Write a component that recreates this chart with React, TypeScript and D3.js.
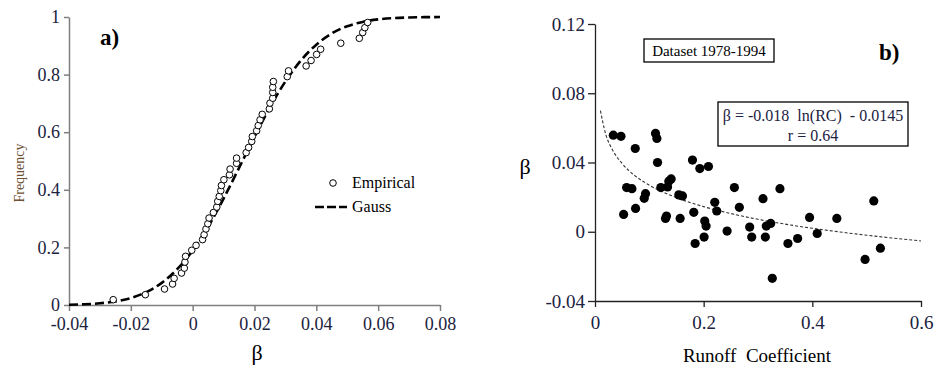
// App.tsx
import React, { useEffect, useRef } from 'react';
import * as d3 from 'd3';

// panel a) - empirical cumulative frequency of beta
const empiricalBeta = [
  -0.0257, -0.0153, -0.0091, -0.0065, -0.006, -0.0036, -0.0027, -0.0025, -0.0023, -0.0003,
  0.0011, 0.0032, 0.0037, 0.0043, 0.0049, 0.0053, 0.0067, 0.0078, 0.0081, 0.0086,
  0.0091, 0.0093, 0.0101, 0.0119, 0.0121, 0.0142, 0.0142, 0.0173, 0.0181, 0.0191,
  0.0193, 0.0207, 0.0212, 0.0218, 0.0225, 0.0248, 0.025, 0.0259, 0.0259, 0.0259,
  0.0261, 0.0306, 0.031, 0.0367, 0.0383, 0.0401, 0.0414, 0.0479, 0.0539, 0.055,
  0.0557, 0.0566,
];
const empiricalFreq = [
  0.0185, 0.0358, 0.0555, 0.0728, 0.0925, 0.111, 0.128, 0.149, 0.169, 0.19,
  0.207, 0.227, 0.244, 0.264, 0.282, 0.302, 0.321, 0.34, 0.36, 0.377,
  0.397, 0.415, 0.435, 0.452, 0.472, 0.492, 0.51, 0.529, 0.547, 0.568,
  0.585, 0.605, 0.623, 0.643, 0.662, 0.681, 0.701, 0.718, 0.738, 0.756,
  0.776, 0.793, 0.813, 0.83, 0.849, 0.87, 0.888, 0.909, 0.926, 0.946,
  0.963, 0.981,
];
// Gauss curve
const gaussBeta = [
  -0.04, -0.035, -0.03, -0.025, -0.02, -0.015, -0.01, -0.005, 0, 0.005, 0.01, 0.015, 0.02,
  0.025, 0.03, 0.035, 0.04, 0.045, 0.05, 0.055, 0.06, 0.065, 0.07, 0.075, 0.08,
];
const gaussFreq = [
  0.0011, 0.0026, 0.0059, 0.0124, 0.0243, 0.0447, 0.0769, 0.1245, 0.1894, 0.272, 0.3695, 0.476, 0.584,
  0.6866, 0.776, 0.849, 0.904, 0.943, 0.968, 0.983, 0.9918, 0.9962, 0.9984, 0.9994, 0.9998,
];
const aXTicks = [-0.04, -0.02, 0, 0.02, 0.04, 0.06, 0.08];
const aYTicks = [0, 0.2, 0.4, 0.6, 0.8, 1];

// panel b) - beta vs runoff coefficient
const runoffRC = [
  0.0337, 0.0478, 0.0741, 0.1114, 0.1139, 0.1151, 0.0527, 0.0582, 0.068, 0.0747,
  0.0906, 0.093, 0.1212, 0.1335, 0.1402, 0.1298, 0.1316, 0.1543, 0.161, 0.1567,
  0.1794, 0.1929, 0.2088, 0.1818, 0.1843, 0.2008, 0.202, 0.2045, 0.2204, 0.2241,
  0.2431, 0.2565, 0.2657, 0.2847, 0.2884, 0.3092, 0.3135, 0.3153, 0.3233, 0.3263,
  0.3404, 0.3551, 0.3729, 0.3949, 0.409, 0.4451, 0.4971, 0.5131, 0.5253, 0.1359,
];
const runoffBeta = [
  0.0558, 0.0551, 0.0481, 0.0568, 0.0539, 0.04, 0.01, 0.0255, 0.0249, 0.0135,
  0.0193, 0.022, 0.0255, 0.0259, 0.0305, 0.0077, 0.0091, 0.0213, 0.0207, 0.0077,
  0.0414, 0.0365, 0.0377, 0.0112, -0.0068, -0.0031, 0.0062, 0.0033, 0.017, 0.012,
  0.0004, 0.0255, 0.0141, 0.0027, -0.0031, 0.0191, -0.0031, 0.0033, 0.0048, -0.0269,
  0.0249, -0.0068, -0.0039, 0.0083, -0.001, 0.0077, -0.016, 0.0178, -0.0095, 0.0292,
];
// fitted curve
const fitRC = [0.01, 0.02, 0.03, 0.05, 0.075, 0.1, 0.15, 0.2, 0.25, 0.3, 0.35, 0.4, 0.45, 0.5, 0.55, 0.6];
const fitBeta = [
  0.07, 0.056, 0.0486, 0.0394, 0.032, 0.0269, 0.0197, 0.0145, 0.0105, 0.0072, 0.0044, 0.002,
  -0.0001, -0.002, -0.0037, -0.0053,
];
const bXTicks = [0, 0.2, 0.4, 0.6];
const bYTicks = [-0.04, 0, 0.04, 0.08, 0.12];

const serif = '"Liberation Serif", "Times New Roman", serif';
const fmt = (v: number) => String(+v.toFixed(2));

const App = () => {
  const svgRef = useRef<SVGSVGElement>(null);

  useEffect(() => {
    const svg = d3.select(svgRef.current);
    svg.selectAll('*').remove();
    svg.style('font-family', serif);

    // ---------- panel a ----------
    const ax = d3.scaleLinear().domain([-0.04, 0.08]).range([69, 440]);
    const ay = d3.scaleLinear().domain([0, 1]).range([305, 17]);
    const a = svg.append('g');

    const axA = a.append('g').attr('transform', 'translate(0,305)')
      .call(d3.axisBottom(ax).tickValues(aXTicks).tickSize(6).tickSizeOuter(0).tickFormat(d => fmt(+d)));
    const ayA = a.append('g').attr('transform', 'translate(69,0)')
      .call(d3.axisLeft(ay).tickValues(aYTicks).tickSize(5).tickSizeOuter(0).tickFormat(d => fmt(+d)));
    [axA, ayA].forEach(g => {
      g.attr('font-family', null);
      g.select('.domain').attr('stroke', '#7f7f7f').attr('stroke-width', 1.5);
      g.selectAll('.tick line').attr('stroke', '#7f7f7f').attr('stroke-width', 1.5);
      g.selectAll('.tick text').attr('fill', '#1c2240').attr('font-size', 18).style('font-family', serif);
    });
    axA.selectAll('.tick text').attr('dy', '0.95em').attr('y', 8);
    ayA.selectAll('.tick text').attr('x', -9);

    const gaussLine = d3.line<number>()
      .x((_, i) => ax(gaussBeta[i]))
      .y(d => ay(d))
      .curve(d3.curveMonotoneX);
    a.append('path').datum(gaussFreq).attr('d', gaussLine)
      .attr('fill', 'none').attr('stroke', '#000').attr('stroke-width', 2.6).attr('stroke-dasharray', '9,4');

    a.selectAll('circle.emp').data(empiricalFreq).enter().append('circle')
      .attr('class', 'emp')
      .attr('cx', (_, i) => ax(empiricalBeta[i]))
      .attr('cy', d => ay(d))
      .attr('r', 3.3)
      .attr('fill', '#fff').attr('stroke', '#000').attr('stroke-width', 1);

    a.append('text').attr('x', 100).attr('y', 45).attr('font-size', 23).attr('font-weight', 'bold').text('a)');
    a.append('text').attr('transform', 'translate(24,173) rotate(-90)').attr('text-anchor', 'middle')
      .attr('font-size', 14).attr('fill', '#6b5034').text('Frequency');
    a.append('text').attr('x', 257).attr('y', 360).attr('text-anchor', 'middle').attr('font-size', 22).text('β');

    // legend
    a.append('circle').attr('cx', 333).attr('cy', 183).attr('r', 3.3).attr('fill', '#fff').attr('stroke', '#000');
    a.append('text').attr('x', 352).attr('y', 188).attr('font-size', 16).text('Empirical');
    a.append('line').attr('x1', 315).attr('x2', 347).attr('y1', 207).attr('y2', 207)
      .attr('stroke', '#000').attr('stroke-width', 2.6).attr('stroke-dasharray', '9,3');
    a.append('text').attr('x', 352).attr('y', 212).attr('font-size', 16).text('Gauss');

    // ---------- panel b ----------
    const bx = d3.scaleLinear().domain([0, 0.6]).range([595, 921]);
    const by = d3.scaleLinear().domain([-0.04, 0.12]).range([301, 24]);
    const b = svg.append('g');

    const bxA = b.append('g').attr('transform', 'translate(0,301)')
      .call(d3.axisBottom(bx).tickValues(bXTicks).tickSize(6).tickSizeOuter(0).tickFormat(d => fmt(+d)));
    const byA = b.append('g').attr('transform', 'translate(595,0)')
      .call(d3.axisLeft(by).tickValues(bYTicks).tickSize(7).tickSizeOuter(0).tickFormat(d => fmt(+d)));
    [bxA, byA].forEach(g => {
      g.attr('font-family', null);
      g.select('.domain').attr('stroke', '#222').attr('stroke-width', 1.3);
      g.selectAll('.tick line').attr('stroke', '#222').attr('stroke-width', 1.3);
      g.selectAll('.tick text').attr('fill', '#1c2240').attr('font-size', 19).style('font-family', serif);
    });
    bxA.selectAll('.tick text').attr('dy', '0.95em').attr('y', 10);
    byA.selectAll('.tick text').attr('x', -10);

    const fitLine = d3.line<number>()
      .x((_, i) => bx(fitRC[i]))
      .y(d => by(d))
      .curve(d3.curveMonotoneX);
    b.append('path').datum(fitBeta).attr('d', fitLine)
      .attr('fill', 'none').attr('stroke', '#333').attr('stroke-width', 1.1).attr('stroke-dasharray', '3,2');

    b.selectAll('circle.pt').data(runoffBeta).enter().append('circle')
      .attr('class', 'pt')
      .attr('cx', (_, i) => bx(runoffRC[i]))
      .attr('cy', d => by(d))
      .attr('r', 4.6)
      .attr('fill', '#000');

    b.append('rect').attr('x', 644).attr('y', 39).attr('width', 130).attr('height', 23)
      .attr('fill', '#fff').attr('stroke', '#000').attr('stroke-width', 1.3);
    b.append('text').attr('x', 709).attr('y', 56).attr('text-anchor', 'middle').attr('font-size', 15).text('Dataset 1978-1994');

    b.append('rect').attr('x', 718).attr('y', 102).attr('width', 190).attr('height', 44)
      .attr('fill', '#fff').attr('stroke', '#000').attr('stroke-width', 1.3);
    b.append('text').attr('x', 813).attr('y', 121).attr('text-anchor', 'middle').attr('font-size', 16)
      .attr('fill', '#1c2240').style('white-space', 'pre').text('β = -0.018  ln(RC)  - 0.0145');
    b.append('text').attr('x', 813).attr('y', 141).attr('text-anchor', 'middle').attr('font-size', 16)
      .attr('fill', '#1c2240').text('r = 0.64');

    b.append('text').attr('x', 879).attr('y', 60).attr('font-size', 23).attr('font-weight', 'bold').text('b)');
    b.append('text').attr('x', 525).attr('y', 174).attr('text-anchor', 'middle').attr('font-size', 22).text('β');
    b.append('text').attr('x', 757).attr('y', 362).attr('text-anchor', 'middle').attr('font-size', 19)
      .style('white-space', 'pre').text('Runoff  Coefficient');
  }, []);

  return (
    <svg ref={svgRef} width={938} height={367}
      style={{ position: 'absolute', left: 0, top: 0, background: '#fff' }} />
  );
};

export default App;
